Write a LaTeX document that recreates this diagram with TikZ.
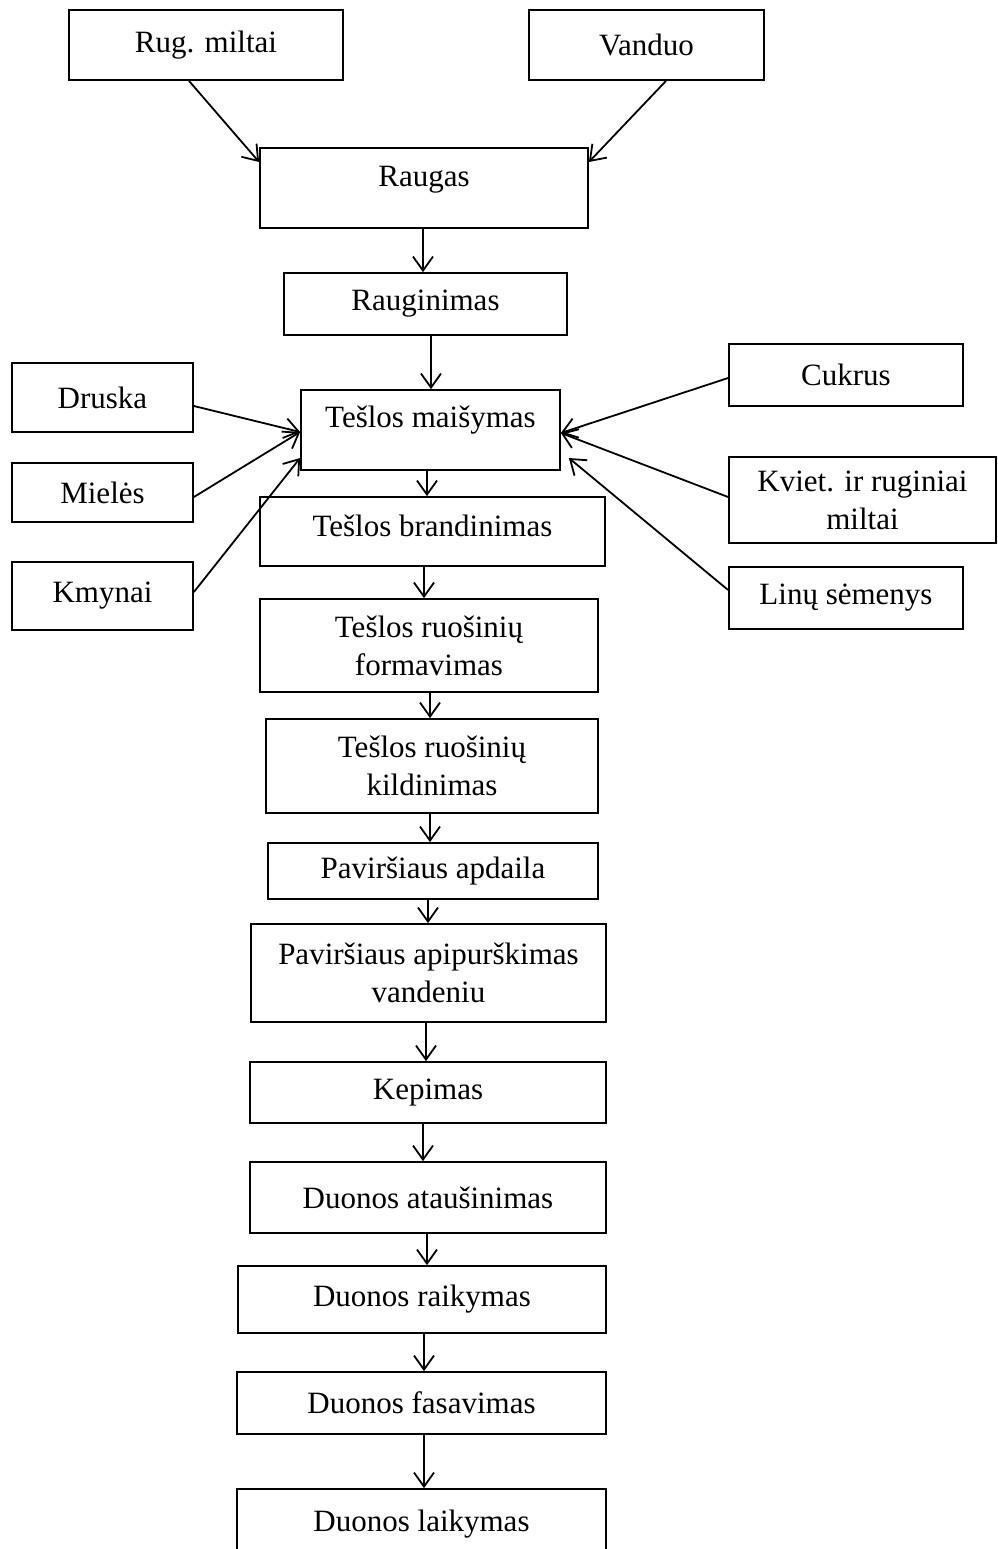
\documentclass[tikz,border=0pt]{standalone}
\usepackage{fontspec}
\setmainfont{Liberation Serif}
\usetikzlibrary{arrows.meta}
\begin{document}
\begin{tikzpicture}[x=0.5pt,y=-0.5pt,
  txt/.style={font=\fontsize{15.5}{19}\selectfont, align=center},
  box/.style={draw, line width=0.9pt, inner sep=0pt, txt},
  arr/.style={line width=0.9pt, -{Straight Barb[length=7pt,width=10pt,line width=0.9pt]}}]
\useasboundingbox (0,0) rectangle (997,1549);
\fill[white] (0,0) rectangle (997,1549);
% inputs
\node[box, minimum width=137pt, minimum height=35pt] (rug) at (206,45) {Rug. miltai};
\node[box, minimum width=117.5pt, minimum height=35pt] (van) at (646.5,45) {Vanduo};
\node[box, minimum width=164pt, minimum height=40pt,
      label={[txt, yshift=4pt]center:Raugas}] (raugas) at (424,188) {};
\node[box, minimum width=141.5pt, minimum height=31pt] (raug) at (425.5,304) {Rauginimas};
\node[box, minimum width=129.5pt, minimum height=40pt,
      label={[txt, yshift=5pt]center:Tešlos maišymas}] (mais) at (430.5,430) {};
\node[box, minimum width=90.5pt, minimum height=34.5pt] (druska) at (102.5,397.5) {Druska};
\node[box, minimum width=90.5pt, minimum height=29.5pt] (mieles) at (102.5,492.5) {Mielės};
\node[box, minimum width=90.5pt, minimum height=34pt] (kmynai) at (102.5,596) {Kmynai};
\node[box, minimum width=117pt, minimum height=31pt] (cukrus) at (846,375) {Cukrus};
\node[box, minimum width=133.5pt, minimum height=43pt] (kviet) at (862.5,500) {Kviet. ir ruginiai\\miltai};
\node[box, minimum width=117pt, minimum height=31pt] (linu) at (846,598) {Linų sėmenys};
% main chain
\node[box, minimum width=172.5pt, minimum height=34.5pt,
      label={[txt, yshift=3pt]center:Tešlos brandinimas}] (brand) at (432.5,531.5) {};
\node[box, minimum width=169pt, minimum height=46.5pt] (form) at (429,645.5) {Tešlos ruošinių\\formavimas};
\node[box, minimum width=166pt, minimum height=47pt] (kild) at (432,766) {Tešlos ruošinių\\kildinimas};
\node[box, minimum width=165pt, minimum height=28pt] (apd) at (433,871) {Paviršiaus apdaila};
\node[box, minimum width=177.5pt, minimum height=49pt] (apip) at (428.5,973) {Paviršiaus apipurškimas\\vandeniu};
\node[box, minimum width=178pt, minimum height=30.5pt] (kep) at (428,1092.5) {Kepimas};
\node[box, minimum width=178pt, minimum height=35.5pt] (ata) at (428,1197.5) {Duonos ataušinimas};
\node[box, minimum width=184pt, minimum height=33.5pt] (raik) at (422,1299.5) {Duonos raikymas};
\node[box, minimum width=184.5pt, minimum height=31pt] (fas) at (421.5,1403) {Duonos fasavimas};
\node[box, minimum width=184.5pt, minimum height=35.5pt] (laik) at (421.5,1524.5) {Duonos laikymas};
% connectors
\draw[arr] (rug.south -| 189,0) -- (raugas.west |- 0,162);
\draw[arr] (van.south -| 666,0) -- (raugas.east |- 0,162);
\draw[arr] (raugas.south -| 423,0) -- (raug.north -| 423,0);
\draw[arr] (raug.south -| 431,0) -- (mais.north -| 431,0);
\draw[arr] (druska.east |- 0,406) -- (mais.west |- 0,432);
\draw[arr] (mieles.east |- 0,497) -- (mais.west |- 0,432);
\draw[arr] (kmynai.east |- 0,592) -- (mais.west |- 0,458);
\draw[arr] (cukrus.west |- 0,378) -- (mais.east |- 0,433);
\draw[arr] (kviet.west |- 0,497) -- (mais.east |- 0,433);
\draw[arr] (linu.west |- 0,590) -- ([xshift=4pt]mais.east |- 0,458);
\draw[arr] (mais.south -| 427,0) -- (brand.north -| 427,0);
\draw[arr] (brand.south -| 424,0) -- (form.north -| 424,0);
\draw[arr] (form.south -| 430,0) -- (kild.north -| 430,0);
\draw[arr] (kild.south -| 430,0) -- (apd.north -| 430,0);
\draw[arr] (apd.south -| 428,0) -- (apip.north -| 428,0);
\draw[arr] (apip.south -| 426,0) -- (kep.north -| 426,0);
\draw[arr] (kep.south -| 423,0) -- (ata.north -| 423,0);
\draw[arr] (ata.south -| 427,0) -- (raik.north -| 427,0);
\draw[arr] (raik.south -| 424,0) -- (fas.north -| 424,0);
\draw[arr] (fas.south -| 424,0) -- (laik.north -| 424,0);
\end{tikzpicture}
\end{document}
